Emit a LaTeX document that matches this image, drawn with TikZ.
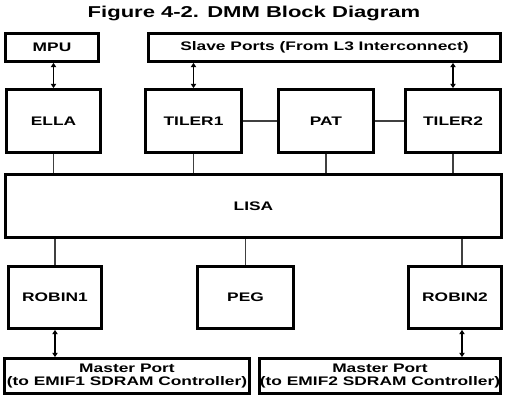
\documentclass[tikz,border=0pt]{standalone}
\usepackage{fontspec}
\newfontfamily\labfont{Liberation Sans}[FakeStretch=1.4]
\usetikzlibrary{fit,calc,arrows.meta}
\begin{document}
\begin{tikzpicture}[x=0.75pt,y=-0.75pt,
  box/.style={draw=black, line width=2.1pt, inner sep=0pt, fill=white},
  txt/.style={font=\labfont\bfseries\fontsize{9.3}{10.3}\selectfont, align=center, inner sep=0pt},
  link/.style={draw=black!75, line width=0.8pt},
  dar/.style={draw=black, line width=1.1pt, {Triangle[length=3.2pt,width=4pt]}-{Triangle[length=3.2pt,width=4pt]}}]
\useasboundingbox (0,0) rectangle (510,400);
\node[font=\labfont\bfseries\fontsize{11.8}{13}\selectfont, anchor=base] (title) at (254,17.5) {Figure 4-2. DMM Block Diagram};
% top row
\node[box, fit={(5.5,33.5) (98.5,61.5)}, label={[txt]center:MPU}] (mpu) {};
\node[box, fit={(148.5,33.5) (500.5,61.5)}, label={[txt]center:Slave Ports (From L3 Interconnect)}] (slave) {};
\node[box, fit={(6.5,89.5) (100.5,152.5)}, label={[txt]center:ELLA}] (ella) {};
\node[box, fit={(145.5,89.5) (241.5,152.5)}, label={[txt]center:TILER1}] (tiler1) {};
\node[box, fit={(278.5,89.5) (373.5,152.5)}, label={[txt]center:PAT}] (pat) {};
\node[box, fit={(405.5,89.5) (500.5,152.5)}, label={[txt]center:TILER2}] (tiler2) {};
% LISA
\node[box, fit={(5.5,174.5) (501.5,237.5)}, label={[txt]center:LISA}] (lisa) {};
% bottom row
\node[box, fit={(8.5,266.5) (101.5,328.5)}, label={[txt]center:ROBIN1}] (robin1) {};
\node[box, fit={(197.5,266.5) (293.5,328.5)}, label={[txt]center:PEG}] (peg) {};
\node[box, fit={(408.5,266.5) (501.5,328.5)}, label={[txt]center:ROBIN2}] (robin2) {};
\node[box, fit={(4.5,358.5) (249.5,393.5)}, label={[txt]center:Master Port\\(to EMIF1 SDRAM Controller)}] (mp1) {};
\node[box, fit={(259.5,358.5) (500.5,393.5)}, label={[txt]center:Master Port\\(to EMIF2 SDRAM Controller)}] (mp2) {};
% connectors
\draw[dar] (ella.north) -- (ella.north |- mpu.south);
\draw[dar] (tiler1.north) -- (tiler1.north |- slave.south);
\draw[dar] (tiler2.north) -- (tiler2.north |- slave.south);
\draw[link] (tiler1.east) -- (pat.west);
\draw[link] (pat.east) -- (tiler2.west);
\draw[link] (ella.south) -- (ella.south |- lisa.north);
\draw[link] (tiler1.south) -- (tiler1.south |- lisa.north);
\draw[link] (pat.south) -- (pat.south |- lisa.north);
\draw[link] (tiler2.south) -- (tiler2.south |- lisa.north);
\coordinate (r2n) at ($(robin2.north)+(7,0)$);
\coordinate (r2s) at ($(robin2.south)+(7,0)$);
\draw[link] (robin1.north) -- (robin1.north |- lisa.south);
\draw[link] (peg.north) -- (peg.north |- lisa.south);
\draw[link] (r2n) -- (r2n |- lisa.south);
\draw[dar] (robin1.south) -- (robin1.south |- mp1.north);
\draw[dar] (r2s) -- (r2s |- mp2.north);
\end{tikzpicture}
\end{document}
